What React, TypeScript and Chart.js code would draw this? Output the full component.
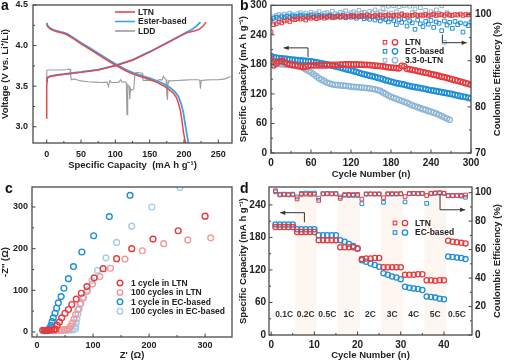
import React, { useEffect, useRef } from 'react';
import { Chart, registerables } from 'chart.js';

Chart.register(...registerables);

const FONT = '"Liberation Sans", Arial, Helvetica, sans-serif';
const INK = '#222222';
const RED = '#e63a3e';
const BLUE = '#1e8fd7';
const STEEL = '#8db6d6';
const PINK = '#f19a9a';
const SKY = '#a3cdea';
const GREY = '#9b9b9b';
const RED_LINE = '#e8464a';
const BLUE_LINE = '#3ea3e0';

// ---------------- Panel a: voltage profiles ----------------
const aXTicks = [0, 50, 100, 150, 200, 250];
const aYTicks = [3.0, 3.5, 4.0, 4.5];
const ltnChargeCap = [0, 0, 1, 5, 15, 30, 50, 75, 100, 125, 150, 175, 195, 205, 215, 222, 228, 232];
const ltnChargeV = [3.10, 3.50, 3.60, 3.62, 3.635, 3.65, 3.67, 3.70, 3.75, 3.82, 3.92, 4.03, 4.12, 4.16, 4.18, 4.20, 4.24, 4.29];
const esterChargeCap = [0, 1, 5, 15, 30, 50, 75, 100, 125, 150, 175, 195, 205, 212, 218, 224];
const esterChargeV = [3.55, 3.61, 3.625, 3.64, 3.655, 3.675, 3.705, 3.755, 3.825, 3.925, 4.035, 4.125, 4.17, 4.20, 4.24, 4.29];
const ltnDisCap = [0, 1, 3, 6, 10, 15, 20, 25, 30, 40, 50, 60, 75, 90, 100, 115, 127, 140, 151, 162, 171, 178, 185, 189, 192, 195, 197, 199, 201, 203];
const ltnDisV = [4.26, 4.24, 4.22, 4.20, 4.185, 4.17, 4.16, 4.15, 4.13, 4.08, 4.02, 3.97, 3.89, 3.81, 3.76, 3.69, 3.645, 3.61, 3.58, 3.54, 3.50, 3.46, 3.41, 3.36, 3.29, 3.19, 3.08, 2.95, 2.85, 2.78];
const esterDisCap = [0, 1, 3, 6, 10, 15, 20, 25, 30, 40, 50, 60, 75, 90, 100, 115, 127, 140, 151, 162, 171, 180, 187, 192, 196, 199, 201, 203, 205, 207];
const esterDisV = [4.28, 4.25, 4.23, 4.21, 4.195, 4.18, 4.17, 4.16, 4.145, 4.09, 4.035, 3.985, 3.905, 3.825, 3.775, 3.705, 3.66, 3.625, 3.595, 3.56, 3.525, 3.48, 3.43, 3.37, 3.28, 3.18, 3.07, 2.97, 2.87, 2.78];
const lddCap = [0, 0, 1, 10, 20, 30, 34, 35, 36, 40, 45, 50, 60, 70, 80, 88, 90, 92, 94, 100, 105, 108, 110, 114, 116, 117, 118, 120, 121, 122, 123, 125, 127, 128, 129, 131, 135, 139, 140, 141, 145, 150, 155, 160, 165, 168, 170, 172, 174, 175, 176, 177, 178, 180, 190, 200, 210, 220, 223, 224, 225, 230, 240, 250, 260, 268];
const lddV = [3.58, 3.69, 3.70, 3.70, 3.70, 3.705, 3.71, 3.62, 3.58, 3.59, 3.575, 3.565, 3.555, 3.55, 3.545, 3.55, 3.50, 3.57, 3.545, 3.545, 3.55, 3.58, 3.55, 3.555, 3.545, 3.15, 3.52, 3.50, 3.34, 3.47, 3.45, 3.46, 3.47, 3.60, 3.66, 3.67, 3.665, 3.66, 3.58, 3.57, 3.575, 3.57, 3.565, 3.57, 3.58, 3.575, 3.62, 3.60, 3.58, 3.40, 3.33, 3.55, 3.57, 3.565, 3.57, 3.575, 3.58, 3.58, 3.575, 3.47, 3.57, 3.575, 3.58, 3.58, 3.59, 3.62];

// ---------------- Panel b: long cycling ----------------
const bXTicks = [0, 60, 120, 180, 240, 300];
const bYTicks = [0, 60, 120, 180, 240, 300];
const bY1Ticks = [70, 80, 90, 100];
const cycB = [0, 4, 8, 12, 16, 20, 24, 28, 32, 36, 40, 44, 48, 52, 56, 60, 64, 68, 72, 76, 80, 84, 88, 92, 96, 100, 104, 108, 112, 116, 120, 124, 128, 132, 136, 140, 144, 148, 152, 156, 160, 164, 168, 172, 176, 180, 184, 188, 192, 196, 200, 204, 208, 212, 216, 220, 224, 228, 232, 236, 240, 244, 248, 252, 256, 260, 264, 268, 272, 276, 280, 284, 288, 292, 296, 300];
const ltnCapB = [192, 178, 182, 186, 187, 185, 182, 180, 179, 178, 177, 176, 175, 175, 177, 178, 178, 178, 178, 178, 178, 178, 178.5, 179, 179, 179, 179.5, 179.5, 180, 180, 180, 180, 180, 179.5, 179.5, 179, 179, 178.5, 178, 177.5, 177, 176.5, 176, 175, 174, 173.5, 173, 172.5, 172, 177, 176, 171, 170, 169, 168, 166.5, 165.5, 164, 163, 162, 160.5, 159, 158, 156.5, 155, 154, 152.5, 151, 149.5, 148, 146.5, 145, 143.5, 142, 140.5, 139];
const ecCapB = [197, 195, 194, 193, 192, 191.5, 191, 190, 189.5, 189, 188.5, 188, 187.5, 187, 186.5, 186, 185, 184, 183, 182, 181, 180, 179, 177.5, 176, 175, 173.5, 172, 170.5, 169, 168, 166.5, 165, 163, 161.5, 160, 158.5, 157, 156, 154.5, 153, 151.5, 150, 148, 146.5, 145, 143.5, 142, 141, 140, 139, 137.5, 136, 135, 134, 133, 132, 131, 130, 128.5, 127.5, 126.5, 125.5, 124.5, 123.5, 122.5, 121.5, 120.5, 119.5, 118, 117, 115.5, 114.5, 113.5, 112, 111];
const ltnCeB = [96.2, 97.8, 98.0, 98.4, 98.2, 98.6, 98.8, 98.5, 99.0, 98.9, 99.1, 99.0, 99.2, 98.8, 99.3, 99.2, 99.4, 99.1, 99.3, 99.5, 99.2, 99.4, 99.6, 99.3, 99.5, 99.6, 99.4, 99.7, 99.5, 99.6, 99.8, 99.5, 99.7, 99.6, 99.8, 99.6, 99.9, 99.7, 99.6, 99.8, 99.7, 99.9, 99.6, 99.8, 99.9, 99.7, 99.8, 99.9, 99.7, 100.0, 99.8, 99.9, 99.7, 99.8, 100.0, 99.8, 99.9, 99.7, 100.0, 99.8, 99.9, 100.1, 99.8, 99.9, 100.0, 99.8, 100.1, 99.9, 99.8, 100.0, 99.9, 100.1, 99.8, 100.0, 99.9, 100.0];
const ecCeB = [98.6, 99.2, 99.4, 99.1, 99.5, 99.3, 99.6, 99.4, 99.7, 99.5, 99.6, 99.8, 99.5, 99.7, 99.6, 99.9, 99.5, 99.7, 99.8, 99.6, 99.7, 99.5, 99.8, 99.6, 99.4, 99.7, 99.5, 99.8, 99.3, 99.6, 99.4, 99.7, 99.2, 99.5, 99.6, 99.1, 99.4, 99.0, 99.5, 98.8, 99.3, 98.6, 99.2, 98.9, 98.4, 99.1, 98.7, 97.8, 98.9, 98.3, 99.0, 97.5, 98.6, 98.2, 96.8, 98.8, 98.0, 97.4, 98.5, 97.9, 98.7, 97.2, 98.4, 98.1, 96.5, 98.6, 97.7, 98.3, 97.0, 98.5, 97.8, 98.2, 96.2, 98.0, 97.6, 98.4];
const cycB33 = [0, 4, 8, 12, 16, 20, 24, 28, 32, 36, 40, 44, 48, 52, 56, 60, 64, 68, 72, 76, 80, 84, 88, 92, 96, 100, 104, 108, 112, 116, 120, 124, 128, 132, 136, 140, 144, 148, 152, 156, 160, 164, 168, 172, 176, 180, 184, 188, 192, 196, 200, 204, 208, 212, 216, 220, 224, 228, 232, 236, 240, 244, 248, 252, 256, 260, 264, 268];
const ltn33CapB = [181, 182, 181.5, 181, 180.5, 180, 179.5, 179, 178, 177.5, 176.5, 175, 173, 170, 167, 164, 160, 156, 152, 149, 146, 143, 141, 139.5, 138.5, 138, 137.5, 137, 136.5, 136, 135, 134.5, 134, 133.5, 133, 132.5, 132, 131, 130.5, 129.5, 128, 126, 123, 120, 117, 114, 112, 110, 108, 106, 104, 102, 99.5, 97, 95, 93, 91, 89, 87.5, 85.5, 84, 82, 80, 77.5, 75, 72.5, 70, 67.5];
const ltn33CeB = [99.0, 99.5, 99.8, 100.0, 99.7, 100.1, 99.9, 100.3, 100.0, 99.8, 100.2, 100.4, 100.0, 100.3, 99.9, 100.5, 100.1, 100.2, 100.6, 100.0, 100.3, 100.4, 100.1, 100.7, 100.2, 100.0, 100.5, 100.3, 100.8, 100.1, 100.4, 100.6, 100.2, 100.9, 100.3, 100.5, 100.0, 100.7, 100.4, 101.0, 100.2, 100.6, 101.3, 100.4, 101.8, 100.3, 101.9, 100.6, 101.7, 100.2, 101.9, 99.5, 101.8, 100.4, 101.2, 99.8, 101.5, 100.0, 100.9, 99.6, 100.6, 99.9, 101.0, 100.3, 101.9, 94.0, 100.4, 99.8];
const bArrowCap = [[55.5, 195], [55.5, 213.5], [19, 213.5]];
const bArrowCe = [[257, 95.7], [257, 93.9], [293.5, 93.9]];

// ---------------- Panel c: EIS ----------------
const cTicks = [0, 100, 200, 300];
const ltn1X = [10, 14, 18, 22, 26, 30, 33, 36, 40, 44, 50, 56, 62, 70, 79, 89, 102, 118, 142, 169, 207, 252, 300];
const ltn1Y = [4, 4, 4, 4, 5, 5, 7, 16, 24, 34, 45, 54, 66, 79, 93, 109, 130, 152, 176, 200, 223, 243, 278];
const ltn100X = [35, 40, 45, 50, 54, 57, 60, 63, 66, 69, 73, 77, 82, 89, 99, 112, 131, 157, 188, 226, 269, 310];
const ltn100Y = [4, 4, 5, 5, 6, 8, 14, 22, 31, 42, 54, 67, 81, 97, 115, 133, 153, 175, 195, 212, 221, 226];
const ec1X = [13, 16, 19, 21, 23, 25, 27, 29, 32, 35, 38, 43, 48, 56, 65, 80, 101, 129, 166];
const ec1Y = [3, 3, 4, 6, 10, 16, 25, 34, 45, 57, 70, 85, 105, 128, 157, 192, 231, 277, 328];
const ec100X = [43, 48, 53, 58, 63, 68, 69, 70, 71, 73, 75, 78, 83, 90, 98, 108, 123, 142, 169, 205, 255];
const ec100Y = [4, 5, 5, 5, 5, 7, 13, 22, 32, 43, 55, 69, 84, 101, 123, 148, 178, 215, 254, 300, 347];

// ---------------- Panel d: rate capability ----------------
const dXTicks = [0, 10, 20, 30, 40];
const dYTicks = [0, 60, 120, 180, 240];
const dY1Ticks = [0, 20, 40, 60, 80, 100];
const cycD = [1, 2, 3, 4, 5, 6, 7, 8, 9, 10, 11, 12, 13, 14, 15, 16, 17, 18, 19, 20, 21, 22, 23, 24, 25, 26, 27, 28, 29, 30, 31, 32, 33, 34, 35, 36, 37, 38, 39, 40, 41, 42, 43, 44, 45];
const ltnCapD = [199, 199, 199, 199, 199, 190, 190, 190, 190, 190, 175, 175, 175, 175, 175, 162, 162, 162, 162, 160, 140, 141, 141, 142, 142, 125, 125, 125, 125, 125, 111, 111, 111, 112, 112, 101, 101, 100, 101, 101, 174, 172, 171, 170, 169];
const ecCapD = [204, 204, 204, 204, 204, 195, 195, 195, 195, 195, 184, 184, 184, 184, 184, 175, 172, 168, 164, 159, 138, 135, 132, 129, 126, 114, 111, 108, 106, 103, 89, 87, 86, 85, 83, 71, 70, 69, 67, 66, 145, 144, 143, 142, 140];
const ltnCeD = [101.4, 98.4, 98.6, 98.4, 98.5, 95.6, 98.8, 99.0, 98.8, 98.9, 94.6, 99.1, 99.2, 99.1, 99.1, 96.0, 98.7, 98.8, 98.7, 98.8, 95.5, 99.1, 99.2, 99.1, 99.1, 96.4, 99.2, 99.3, 99.2, 99.3, 97.3, 99.5, 99.6, 99.5, 99.6, 98.0, 99.6, 99.8, 100.0, 99.7, 98.0, 98.1, 98.0, 98.2, 98.4];
const ecCeD = [100.6, 98.9, 99.0, 98.9, 99.0, 97.0, 99.5, 99.7, 99.6, 99.7, 96.2, 99.4, 99.5, 99.4, 99.5, 97.0, 98.2, 98.0, 98.1, 98.0, 92.3, 99.0, 99.1, 99.0, 99.1, 93.2, 99.1, 99.0, 99.1, 99.2, 93.5, 99.2, 99.3, 99.2, 99.3, 92.5, 99.4, 99.6, 99.8, 99.5, 97.8, 97.8, 97.9, 97.6, 96.8];
const rateEdges = [0.5, 5.5, 10.5, 15.5, 20.5, 25.5, 30.5, 35.5, 40.5, 45.5];
const rateNames = ['0.1C', '0.2C', '0.5C', '1C', '2C', '3C', '4C', '5C', '0.5C'];
const rateLabelLevel = 37;
const dArrowCap = [[7.7, 208], [7.7, 225.6], [2.1, 225.6]];
const dArrowCe = [[39.1, 99.3], [39.1, 88], [44.9, 88]];

// ---------------- helpers ----------------
const pts = (xs: number[], ys: number[]) => xs.map((x, i) => ({ x, y: ys[i] }));

const fixSize = (size: number) => (s: any) => {
  if (s.isHorizontal()) s.height = size;
  else s.width = size;
  s.paddingTop = 0;
  s.paddingBottom = 0;
  s.paddingLeft = 0;
  s.paddingRight = 0;
};
const useTicks = (vals: number[]) => (s: any) => {
  s.ticks = vals.map((v) => ({ value: v }));
};

function axis(o: { pos: string; min: number; max: number; ticks: number[]; size: number; pad: number; fs: number; title?: string; dec?: number }) {
  return {
    type: 'linear',
    position: o.pos,
    min: o.min,
    max: o.max,
    afterBuildTicks: useTicks(o.ticks),
    afterFit: fixSize(o.size),
    grid: { display: false, drawTicks: false },
    border: { display: false },
    ticks: {
      padding: o.pad,
      autoSkip: false,
      maxRotation: 0,
      minRotation: 0,
      color: INK,
      font: { family: FONT, size: o.fs, weight: 'bold' },
      callback: (v: any) => Number(v).toFixed(o.dec ?? 0),
    },
    title: {
      display: !!o.title,
      text: o.title ?? '',
      padding: 0,
      color: INK,
      font: { family: FONT, size: 9.5, weight: 'bold' },
    },
  };
}

function baseOptions(padding: any) {
  return {
    responsive: false,
    maintainAspectRatio: false,
    animation: false,
    devicePixelRatio: 1,
    events: [],
    layout: { padding },
    plugins: { legend: { display: false }, tooltip: { enabled: false } },
  };
}

const framePlugin = {
  id: 'frame',
  afterDraw(chart: any) {
    const { ctx, chartArea: a } = chart;
    ctx.save();
    ctx.strokeStyle = '#444';
    ctx.lineWidth = 1;
    Object.values(chart.scales).forEach((s: any) => {
      const vals = s.ticks.map((t: any) => t.value);
      const mins: number[] = [];
      for (let i = 0; i < vals.length - 1; i++) mins.push((vals[i] + vals[i + 1]) / 2);
      const mark = (v: number, len: number) => {
        const p = s.getPixelForValue(v);
        ctx.beginPath();
        if (s.position === 'bottom') {
          ctx.moveTo(p, a.bottom);
          ctx.lineTo(p, a.bottom - len);
        } else if (s.position === 'left') {
          ctx.moveTo(a.left, p);
          ctx.lineTo(a.left + len, p);
        } else {
          ctx.moveTo(a.right, p);
          ctx.lineTo(a.right - len, p);
        }
        ctx.stroke();
      };
      vals.forEach((v: number) => mark(v, 3.5));
      mins.forEach((v) => mark(v, 2));
    });
    ctx.lineWidth = 1.3;
    ctx.strokeStyle = '#4a4a4a';
    ctx.strokeRect(a.left, a.top, a.right - a.left, a.bottom - a.top);
    ctx.restore();
  },
};

function rightTitle(text: string, dx: number) {
  return {
    id: 'rtitle',
    afterDraw(chart: any) {
      const { ctx, chartArea: a } = chart;
      ctx.save();
      ctx.translate(a.right + dx, (a.top + a.bottom) / 2);
      ctx.rotate(-Math.PI / 2);
      ctx.font = `bold 9.5px ${FONT}`;
      ctx.textAlign = 'center';
      ctx.textBaseline = 'middle';
      ctx.fillStyle = INK;
      ctx.fillText(text, 0, 0);
      ctx.restore();
    },
  };
}

type LegItem = { label: string; color: string; kind: string };
function legendPlugin(items: LegItem[], x: number, y: number, dy: number, fs = 8.5) {
  return {
    id: 'legendBox',
    afterDraw(chart: any) {
      const { ctx, chartArea: a } = chart;
      ctx.save();
      ctx.font = `bold ${fs}px ${FONT}`;
      ctx.textBaseline = 'middle';
      items.forEach((it, i) => {
        const px = a.left + x;
        const py = a.top + y + i * dy;
        ctx.strokeStyle = it.color;
        let tx = px;
        if (it.kind === 'line') {
          ctx.lineWidth = 1.6;
          ctx.beginPath();
          ctx.moveTo(px, py);
          ctx.lineTo(px + 20, py);
          ctx.stroke();
          tx = px + 23;
        } else if (it.kind === 'rc') {
          ctx.lineWidth = 1.1;
          ctx.strokeRect(px - 1.8, py - 1.8, 3.6, 3.6);
          ctx.lineWidth = 1.3;
          ctx.beginPath();
          ctx.arc(px + 10, py, 2.7, 0, Math.PI * 2);
          ctx.stroke();
          tx = px + 20;
        } else {
          ctx.lineWidth = 1.4;
          ctx.beginPath();
          ctx.arc(px, py, 2.8, 0, Math.PI * 2);
          ctx.stroke();
          tx = px + 11;
        }
        ctx.fillStyle = INK;
        ctx.fillText(it.label, tx, py + 0.5);
      });
      ctx.restore();
    },
  };
}

function arrowPlugin(arrows: { axis: string; pts: number[][] }[]) {
  return {
    id: 'arrows',
    afterDatasetsDraw(chart: any) {
      const { ctx, scales } = chart;
      ctx.save();
      ctx.strokeStyle = '#333';
      ctx.fillStyle = '#333';
      ctx.lineWidth = 1;
      arrows.forEach((ar) => {
        const xs = scales.x;
        const ys = scales[ar.axis];
        const p = ar.pts.map(([vx, vy]) => [xs.getPixelForValue(vx), ys.getPixelForValue(vy)]);
        ctx.beginPath();
        p.forEach(([px, py], i) => (i ? ctx.lineTo(px, py) : ctx.moveTo(px, py)));
        ctx.stroke();
        const [x1, y1] = p[p.length - 2];
        const [x2, y2] = p[p.length - 1];
        const ang = Math.atan2(y2 - y1, x2 - x1);
        const L = 5;
        const W = 2.2;
        ctx.beginPath();
        ctx.moveTo(x2, y2);
        ctx.lineTo(x2 - L * Math.cos(ang) + W * Math.sin(ang), y2 - L * Math.sin(ang) - W * Math.cos(ang));
        ctx.lineTo(x2 - L * Math.cos(ang) - W * Math.sin(ang), y2 - L * Math.sin(ang) + W * Math.cos(ang));
        ctx.closePath();
        ctx.fill();
      });
      ctx.restore();
    },
  };
}

const bandPlugin = {
  id: 'bands',
  beforeDatasetsDraw(chart: any) {
    const { ctx, chartArea: a, scales } = chart;
    const xs = scales.x;
    const ys = scales.y;
    ctx.save();
    for (let i = 0; i < rateNames.length; i++) {
      const x0 = Math.max(a.left, xs.getPixelForValue(rateEdges[i]));
      const x1 = Math.min(a.right, xs.getPixelForValue(rateEdges[i + 1]));
      if (i % 2 === 1) {
        ctx.fillStyle = '#fdf6f1';
        ctx.fillRect(x0, a.top, x1 - x0, a.bottom - a.top);
      }
    }
    ctx.font = `bold 8.5px ${FONT}`;
    ctx.textAlign = 'center';
    ctx.textBaseline = 'middle';
    ctx.fillStyle = '#333';
    for (let i = 0; i < rateNames.length; i++) {
      const c = (rateEdges[i] + rateEdges[i + 1]) / 2;
      ctx.fillText(rateNames[i], xs.getPixelForValue(c), ys.getPixelForValue(rateLabelLevel));
    }
    ctx.restore();
  },
};

const lineDs = (xs: number[], ys: number[], color: string, w = 1.5) => ({
  data: pts(xs, ys),
  showLine: true,
  borderColor: color,
  borderWidth: w,
  pointRadius: 0,
  tension: 0,
  fill: false,
});

const markDs = (xs: number[], ys: number[], color: string, style: string, r: number, bw: number, yAxisID = 'y') => ({
  data: pts(xs, ys),
  showLine: false,
  yAxisID,
  pointStyle: style,
  pointRadius: r,
  pointBorderWidth: bw,
  pointBorderColor: color,
  pointBackgroundColor: 'rgba(0,0,0,0)',
  borderColor: color,
  backgroundColor: 'rgba(0,0,0,0)',
});

// ---------------- chart configs ----------------
const makeA = () => ({
  type: 'scatter',
  data: {
    datasets: [
      lineDs(ltnDisCap, ltnDisV, RED_LINE),
      lineDs(ltnChargeCap, ltnChargeV, RED_LINE),
      lineDs(esterDisCap, esterDisV, BLUE_LINE, 1.8),
      lineDs(esterChargeCap, esterChargeV, BLUE_LINE, 1.8),
      lineDs(lddCap, lddV, GREY, 1.1),
    ],
  },
  options: {
    ...baseOptions({ top: 5, right: 13, left: 0, bottom: 0 }),
    scales: {
      x: axis({ pos: 'bottom', min: -20, max: 270, ticks: aXTicks, size: 28, pad: 6, fs: 9, title: 'Specific Capacity  (mA h g⁻¹)' }),
      y: axis({ pos: 'left', min: 2.8, max: 4.5, ticks: aYTicks, size: 33, pad: 5, fs: 9, title: 'Voltage (V vs. Li⁺/Li)', dec: 1 }),
    },
  },
  plugins: [
    framePlugin,
    legendPlugin(
      [
        { label: 'LTN', color: RED_LINE, kind: 'line' },
        { label: 'Ester-based', color: BLUE_LINE, kind: 'line' },
        { label: 'LDD', color: GREY, kind: 'line' },
      ],
      82,
      7,
      9.5,
    ),
  ],
});

const makeB = () => ({
  type: 'scatter',
  data: {
    datasets: [
      markDs(cycB, ltnCapB, RED, 'circle', 2.7, 1.3, 'y'),
      markDs(cycB, ltnCeB, RED, 'rect', 2.6, 1.0, 'y1'),
      markDs(cycB, ecCapB, BLUE, 'circle', 2.7, 1.3, 'y'),
      markDs(cycB, ecCeB, BLUE, 'rect', 2.6, 1.0, 'y1'),
      markDs(cycB33, ltn33CapB, STEEL, 'circle', 2.7, 1.3, 'y'),
      markDs(cycB33, ltn33CeB, STEEL, 'rect', 2.6, 1.0, 'y1'),
    ],
  },
  options: {
    ...baseOptions({ top: 5, right: 0, left: 0, bottom: 0 }),
    scales: {
      x: axis({ pos: 'bottom', min: 0, max: 300, ticks: bXTicks, size: 27, pad: 4, fs: 10, title: 'Cycle Number (n)' }),
      y: axis({ pos: 'left', min: 0, max: 300, ticks: bYTicks, size: 33, pad: 4, fs: 10, title: 'Specific Capacity (mA h g⁻¹)' }),
      y1: axis({ pos: 'right', min: 70, max: 102, ticks: bY1Ticks, size: 36, pad: 4, fs: 10 }),
    },
  },
  plugins: [
    framePlugin,
    rightTitle('Coulombic Efficiency (%)', 26),
    arrowPlugin([
      { axis: 'y', pts: bArrowCap },
      { axis: 'y1', pts: bArrowCe },
    ]),
    legendPlugin(
      [
        { label: 'LTN', color: RED, kind: 'rc' },
        { label: 'EC-based', color: BLUE, kind: 'rc' },
        { label: '3.3-0-LTN', color: STEEL, kind: 'rc' },
      ],
      114,
      37,
      9,
    ),
  ],
});

const makeC = () => ({
  type: 'scatter',
  data: {
    datasets: [
      markDs(ltn1X, ltn1Y, RED, 'circle', 2.9, 1.4),
      markDs(ltn100X, ltn100Y, PINK, 'circle', 2.9, 1.4),
      markDs(ec1X, ec1Y, BLUE, 'circle', 2.9, 1.4),
      markDs(ec100X, ec100Y, SKY, 'circle', 2.9, 1.4),
    ],
  },
  options: {
    ...baseOptions({ top: 12, right: 13, left: 0, bottom: 0 }),
    scales: {
      x: axis({ pos: 'bottom', min: -9, max: 348, ticks: cTicks, size: 24, pad: 3, fs: 9, title: "Z' (Ω)" }),
      y: axis({ pos: 'left', min: -12, max: 348, ticks: cTicks, size: 32, pad: 4, fs: 9, title: "-Z'' (Ω)" }),
    },
  },
  plugins: [
    framePlugin,
    legendPlugin(
      [
        { label: '1 cycle in LTN', color: RED, kind: 'c' },
        { label: '100 cycles in LTN', color: PINK, kind: 'c' },
        { label: '1 cycle in EC-based', color: BLUE, kind: 'c' },
        { label: '100 cycles in EC-based', color: SKY, kind: 'c' },
      ],
      88,
      96,
      9.4,
    ),
  ],
});

const makeD = () => ({
  type: 'scatter',
  data: {
    datasets: [
      markDs(cycD, ltnCapD, RED, 'circle', 2.6, 1.3, 'y'),
      markDs(cycD, ecCapD, BLUE, 'circle', 2.6, 1.3, 'y'),
      markDs(cycD, ltnCeD, RED, 'rect', 2.6, 1.0, 'y1'),
      markDs(cycD, ecCeD, BLUE, 'rect', 2.6, 1.0, 'y1'),
    ],
  },
  options: {
    ...baseOptions({ top: 12, right: 0, left: 0, bottom: 0 }),
    scales: {
      x: axis({ pos: 'bottom', min: -0.5, max: 46.5, ticks: dXTicks, size: 26, pad: 4, fs: 10, title: 'Cycle Number (n)' }),
      y: axis({ pos: 'left', min: 0, max: 273, ticks: dYTicks, size: 31, pad: 3, fs: 10, title: 'Specific Capacity (mA h g⁻¹)' }),
      y1: axis({ pos: 'right', min: 0, max: 104, ticks: dY1Ticks, size: 35, pad: 3, fs: 10 }),
    },
  },
  plugins: [
    bandPlugin,
    framePlugin,
    rightTitle('Coulombic Efficiency (%)', 25),
    arrowPlugin([
      { axis: 'y', pts: dArrowCap },
      { axis: 'y1', pts: dArrowCe },
    ]),
    legendPlugin(
      [
        { label: 'LTN', color: RED, kind: 'rc' },
        { label: 'EC-based', color: BLUE, kind: 'rc' },
      ],
      126,
      36,
      9.5,
    ),
  ],
});

function ChartBox({ left, top, width, height, make }: { left: number; top: number; width: number; height: number; make: () => any }) {
  const ref = useRef<HTMLCanvasElement | null>(null);
  useEffect(() => {
    if (!ref.current) return;
    const chart = new Chart(ref.current, make());
    return () => chart.destroy();
  }, [make]);
  return <canvas ref={ref} width={width} height={height} style={{ position: 'absolute', left, top, width, height }} />;
}

const letterStyle = (left: number, top: number): React.CSSProperties => ({
  position: 'absolute',
  left,
  top,
  fontFamily: FONT,
  fontWeight: 'bold',
  fontSize: 14,
  lineHeight: '14px',
  color: '#111',
});

export default function App() {
  return (
    <div style={{ position: 'fixed', left: 0, top: 0, width: 507, height: 361, overflow: 'hidden', background: '#fff' }}>
      <ChartBox left={0} top={0} width={245} height={171} make={makeA} />
      <ChartBox left={238} top={0} width={269} height={180} make={makeB} />
      <ChartBox left={0} top={175} width={245} height={186} make={makeC} />
      <ChartBox left={238} top={175} width={269} height={186} make={makeD} />
      <div style={letterStyle(1, -2)}>a</div>
      <div style={letterStyle(240, -2)}>b</div>
      <div style={letterStyle(5, 181)}>c</div>
      <div style={letterStyle(240, 181)}>d</div>
    </div>
  );
}
